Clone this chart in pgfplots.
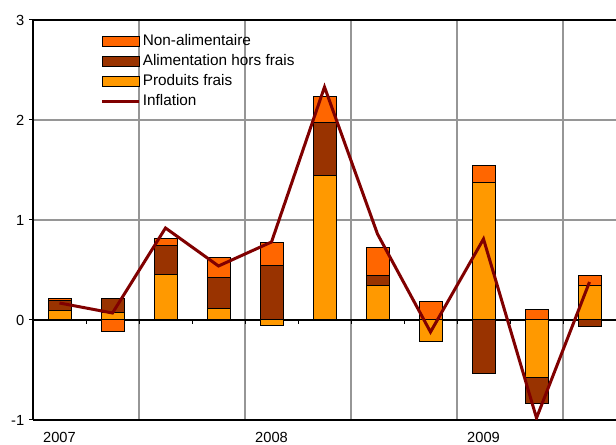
\documentclass[border=0pt]{standalone}
\usepackage{fontspec}
\setmainfont{Liberation Sans}
\usepackage{pgfplots}
\pgfplotsset{compat=1.18}

\definecolor{nonalim}{HTML}{FF6600}
\definecolor{alim}{HTML}{993300}
\definecolor{frais}{HTML}{FF9900}
\definecolor{infl}{HTML}{800000}
\definecolor{gridgray}{HTML}{969696}

\pgfplotsset{
  base/.style={
    scale only axis, width=437.25pt, height=300pt,
    xmin=-0.5, xmax=10.5, ymin=-1, ymax=3,
    enlargelimits=false,
    /pgf/number format/assume math mode=true,
    tick label style={font=\fontsize{11}{12}\selectfont},
  },
  barleg/.style={legend image code/.code={\draw[##1] (0pt,-3.75pt) rectangle (27.75pt,3.75pt);}},
  linleg/.style={legend image code/.code={\draw[##1] (0pt,0pt) -- (27.75pt,0pt);}},
  seg/.style={draw=black, line width=0.75pt, fill=#1, barleg},
}

\begin{document}
\begin{tikzpicture}
% positive parts of the contributions
\begin{axis}[base, name=ax,
    ybar stacked, bar width=17.25pt,
    axis x line*=box, axis y line*=left,
    axis line style={black, line width=0.9pt},
    ytick={-1,0,1,2,3}, ytick pos=left, ytick align=outside,
    major tick length=3pt, ytick style={black, line width=0.75pt},
    ymajorgrids,
    xtick={0,4,8}, xticklabels={2007,2008,2009}, xtick style={draw=none},
    xticklabel style={yshift=-5.5pt},
    minor xtick={1.5,3.5,5.5,7.5,9.5}, xminorgrids, minor tick length=0pt,
    major grid style={gridgray, line width=1pt},
    minor grid style={gridgray, line width=1pt},
    reverse legend,
    legend cell align=left,
    legend style={draw=none, fill=none, at={(0.109,0.977)}, anchor=north west,
      font=\fontsize{11.5}{13}\selectfont,
      nodes={text height=8.5pt, text depth=2.5pt, inner sep=1.5pt},
      row sep=1pt},
  ]
  \addlegendimage{linleg, draw=infl, line width=2.25pt}
  \addlegendentry{Inflation}
  \addplot[seg=frais] coordinates {
    (0,0.09) (1,0.07) (2,0.45) (3,0.11) (4,0) (5,1.44)
    (6,0.34) (7,0) (8,1.37) (9,0) (10,0.34)};
  \addlegendentry{Produits frais}
  \addplot[seg=alim] coordinates {
    (0,0.10) (1,0.14) (2,0.29) (3,0.31) (4,0.54) (5,0.53)
    (6,0.10) (7,0) (8,0) (9,0) (10,0)};
  \addlegendentry{Alimentation hors frais}
  \addplot[seg=nonalim] coordinates {
    (0,0.02) (1,0) (2,0.07) (3,0.20) (4,0.23) (5,0.26)
    (6,0.28) (7,0.18) (8,0.17) (9,0.10) (10,0.10)};
  \addlegendentry{Non-alimentaire}
\end{axis}
% negative parts, and the zero line with its ticks
\begin{axis}[base,
    ybar stacked, bar width=17.25pt,
    axis x line*=middle, axis y line=none,
    axis line style={black, line width=0.9pt},
    xtick={0.5,1.5,...,9.5}, xticklabels={}, xtick align=outside,
    major tick length=3pt, xtick style={black, line width=0.75pt},
    ytick=\empty,
  ]
  \addplot[seg=frais] coordinates {
    (0,0) (1,0) (2,0) (3,0) (4,-0.06) (5,0)
    (6,0) (7,-0.22) (8,0) (9,-0.58) (10,0)};
  \addplot[seg=alim] coordinates {
    (0,0) (1,0) (2,0) (3,0) (4,0) (5,0)
    (6,0) (7,0) (8,-0.54) (9,-0.26) (10,-0.07)};
  \addplot[seg=nonalim] coordinates {
    (0,0) (1,-0.12) (2,0) (3,0) (4,0) (5,0)
    (6,0) (7,0) (8,0) (9,0) (10,0)};
\end{axis}
% inflation
\begin{axis}[base, hide axis]
  \addplot[infl, line width=2.25pt, mark=none] coordinates {
    (0,0.17) (1,0.07) (2,0.92) (3,0.54) (4,0.78) (5,2.33)
    (6,0.86) (7,-0.12) (8,0.81) (9,-0.98) (10,0.38)};
\end{axis}
\pgfresetboundingbox
\useasboundingbox ([xshift=-24.75pt, yshift=-18.75pt]ax.south west) rectangle ([yshift=15pt]ax.north east);
\end{tikzpicture}
\end{document}
